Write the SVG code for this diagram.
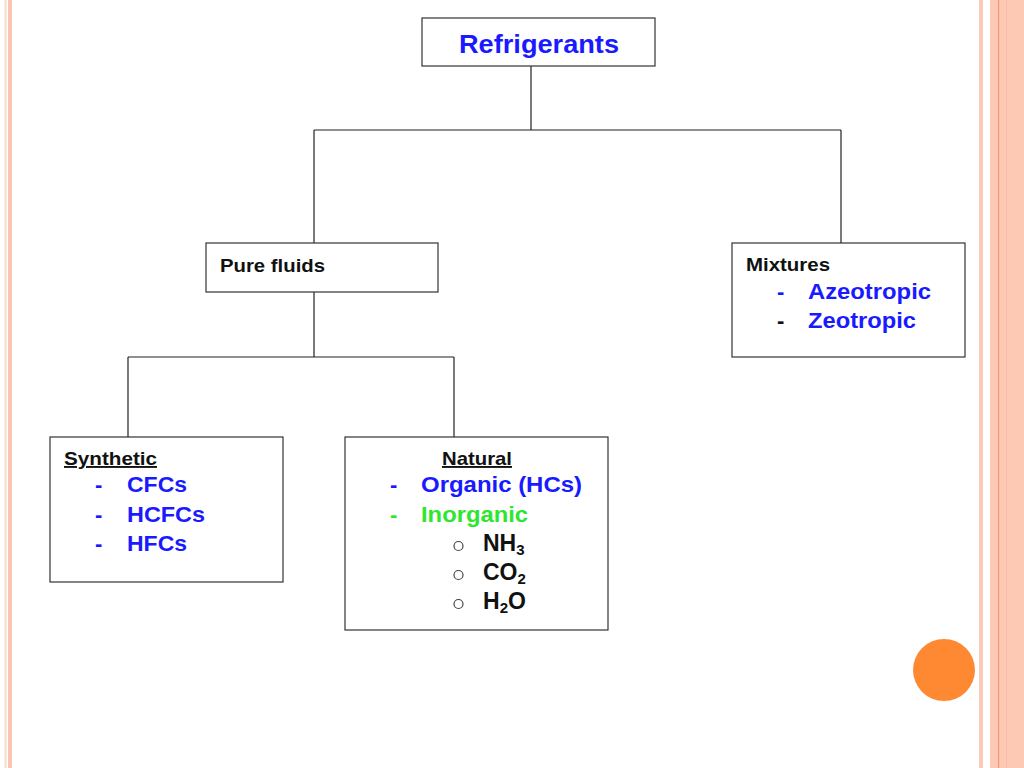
<svg xmlns="http://www.w3.org/2000/svg" width="1024" height="768" viewBox="0 0 1024 768">
<style>
.box{fill:#fff;stroke:#333;stroke-width:1.2}
.con{stroke:#222;stroke-width:1.2;fill:none}
text{font-family:"Liberation Sans",Arial,sans-serif;font-weight:bold}
.blk{fill:#111}
.blu{fill:#1a1aff}
.grn{fill:#2ee62e}
.hd{font-size:19px}
.it{font-size:22px}
.fm{font-size:23px}
.ul{text-decoration:underline}
.bul{fill:none;stroke:#444;stroke-width:1.2}
</style>
<rect width="1024" height="768" fill="#fff"/>
<g id="frame">
<rect x="4.5" y="0" width="2" height="768" fill="#f7dccd"/>
<rect x="8" y="0" width="4" height="768" fill="#fcc5b2"/>
<rect x="979" y="0" width="4" height="768" fill="#fbcab8"/>
<rect x="990" y="0" width="34" height="768" fill="#fdc9b5"/>
<rect x="998" y="0" width="1.2" height="768" fill="#f19a6c"/>
<rect x="1006" y="0" width="1" height="768" fill="#f9bca6"/>
<circle cx="944" cy="670" r="31" fill="#ff8833"/>
</g>
<g id="connectors">
<path class="con" d="M531 66V130M314 130H841M314 130V243M841 130V243"/>
<path class="con" d="M314 292V357M128 357H454M128 357V437M454 357V437"/>
</g>
<g id="refrigerants">
<rect class="box" x="422" y="18" width="233" height="48"/>
<text class="blu" x="539" y="53" font-size="25" text-anchor="middle" textLength="160" lengthAdjust="spacingAndGlyphs">Refrigerants</text>
</g>
<g id="pure-fluids">
<rect class="box" x="206" y="243" width="232" height="49"/>
<text class="blk hd" x="220" y="272" textLength="105" lengthAdjust="spacingAndGlyphs">Pure fluids</text>
</g>
<g id="mixtures">
<rect class="box" x="732" y="243" width="233" height="114"/>
<text class="blk hd" x="746" y="271" textLength="84" lengthAdjust="spacingAndGlyphs">Mixtures</text>
<text class="blu it" x="777" y="299">-</text>
<text class="blu it" x="808" y="299" textLength="123" lengthAdjust="spacingAndGlyphs">Azeotropic</text>
<text class="blk it" x="777" y="328">-</text>
<text class="blu it" x="808" y="328" textLength="108" lengthAdjust="spacingAndGlyphs">Zeotropic</text>
</g>
<g id="synthetic">
<rect class="box" x="50" y="437" width="233" height="145"/>
<text class="blk hd ul" x="64" y="465" textLength="93" lengthAdjust="spacingAndGlyphs">Synthetic</text>
<text class="blu it" x="95" y="492">-</text>
<text class="blu it" x="127" y="492" textLength="60" lengthAdjust="spacingAndGlyphs">CFCs</text>
<text class="blu it" x="95" y="522">-</text>
<text class="blu it" x="127" y="522" textLength="78" lengthAdjust="spacingAndGlyphs">HCFCs</text>
<text class="blu it" x="95" y="551">-</text>
<text class="blu it" x="127" y="551" textLength="60" lengthAdjust="spacingAndGlyphs">HFCs</text>
</g>
<g id="natural">
<rect class="box" x="345" y="437" width="263" height="193"/>
<text class="blk hd ul" x="442" y="465" textLength="70" lengthAdjust="spacingAndGlyphs">Natural</text>
<text class="blu it" x="390" y="492">-</text>
<text class="blu it" x="421" y="492" textLength="161" lengthAdjust="spacingAndGlyphs">Organic (HCs)</text>
<text class="grn it" x="390" y="522">-</text>
<text class="grn it" x="421" y="522" textLength="107" lengthAdjust="spacingAndGlyphs">Inorganic</text>
<circle class="bul" cx="458.5" cy="546" r="4.5"/>
<circle class="bul" cx="458.5" cy="575" r="4.5"/>
<circle class="bul" cx="458.5" cy="604" r="4.5"/>
<text class="blk fm" x="483" y="551">NH<tspan font-size="15" dy="4">3</tspan></text>
<text class="blk fm" x="483" y="580">CO<tspan font-size="15" dy="4">2</tspan></text>
<text class="blk fm" x="483" y="609">H<tspan font-size="15" dy="4">2</tspan><tspan dy="-4">O</tspan></text>
</g>
</svg>
